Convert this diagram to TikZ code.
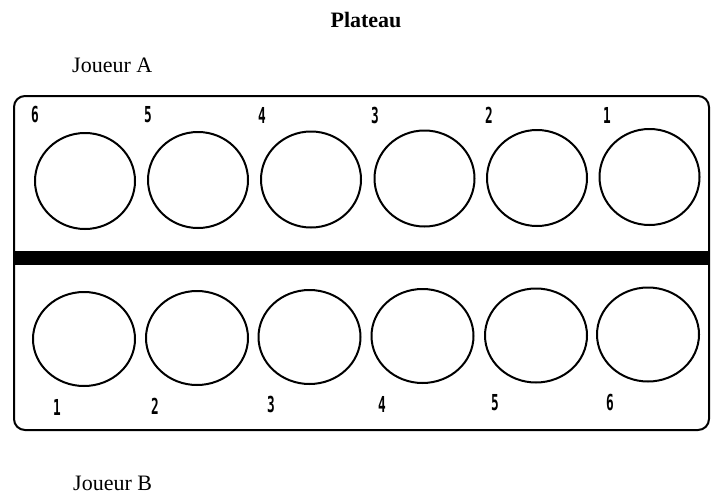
\documentclass[tikz,border=0pt]{standalone}
\usepackage{fontspec}
\setmainfont{Liberation Serif}
\newfontfamily\digitfont{DejaVu Sans Mono}
\usetikzlibrary{shapes.geometric}

\tikzset{
  title/.style={inner sep=0pt, anchor=base, font=\fontsize{22}{22}\selectfont\bfseries},
  player/.style={inner sep=0pt, anchor=base west, font=\fontsize{22}{22}\selectfont},
  board/.style={line width=2pt, rounded corners=11pt},
  divider/.style={fill=black, draw=none},
  pittop/.style={ellipse, draw, line width=2pt, inner sep=0pt,
                 minimum width=100pt, minimum height=96pt},
  pitbot/.style={ellipse, draw, line width=2pt, inner sep=0pt,
                 minimum width=102pt, minimum height=94pt},
  pitnum/.style={inner sep=0pt, font=\fontsize{22}{22}\selectfont\digitfont\bfseries}
}
\newcommand{\pitlabel}[1]{\scalebox{0.58}[1]{#1}}

\begin{document}
\begin{tikzpicture}[x=1pt, y=-1pt]
  \useasboundingbox (0,0) rectangle (711,495);

  % titles
  \node[title] (plateau) at (366,28) {Plateau};
  \node[player] (joueurA) at (72,72) {Joueur A};
  \node[player] (joueurB) at (73,490) {Joueur B};

  % board outline and the middle bar
  \draw[board] (14,96) rectangle (709,430);
  \fill[divider] (14,251) rectangle (709,265);

  % pits of player A (numbered right to left)
  \foreach \i/\x/\y in {1/649.5/177, 2/537/178, 3/424.5/178.5, 4/311/179.5, 5/198/180, 6/85/181}
    \node[pittop] (a\i) at (\x,\y) {};
  \foreach \i/\x in {1/607, 2/489, 3/375, 4/262, 5/148, 6/35}
    \node[pitnum] (na\i) at (\x,115) {\pitlabel{\i}};

  % pits of player B (numbered left to right)
  \foreach \i/\x/\y in {1/84/339, 2/197/338, 3/309.5/337, 4/422.5/336, 5/536/335.5, 6/648/334.5}
    \node[pitbot] (b\i) at (\x,\y) {};
  \foreach \i/\x/\y in {1/57/407, 2/155/406, 3/271/404, 4/382/404, 5/495/403, 6/610/403}
    \node[pitnum] (nb\i) at (\x,\y) {\pitlabel{\i}};
\end{tikzpicture}
\end{document}
